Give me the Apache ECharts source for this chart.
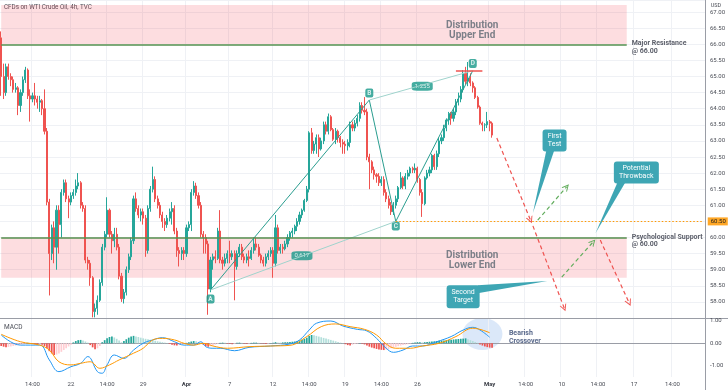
<!DOCTYPE html>
<html><head><meta charset="utf-8">
<script src="https://cdn.jsdelivr.net/npm/echarts@6/dist/echarts.min.js"></script>
<style>html,body{margin:0;padding:0;background:#fff}#c{width:728px;height:390px}</style>
</head><body><div id="c"></div>
<script>
// ---------- DATA ----------
// candles: [open, close, low, high]
const candlesA = [
[66.2,65.0,64.4,66.4],[65.0,64.5,64.3,65.4],[64.5,65.3,64.4,65.4],[65.3,65.0,64.9,65.4],[65.0,64.9,64.7,65.1],
[64.9,64.6,64.5,65.0],[64.6,64.65,64.5,64.8],[64.65,64.1,63.8,64.7],[64.1,64.5,63.9,64.6],[64.5,64.9,64.4,65.0],
[64.9,65.2,64.8,65.3],[65.2,64.4,64.3,65.25],[64.4,64.3,63.6,64.6],[64.3,64.4,64.2,64.5],[64.4,64.3,64.1,64.8],
[64.3,64.2,64.0,64.4],[64.2,64.25,63.9,64.4],[64.25,64.0,63.8,64.3],[64.0,63.3,63.2,64.6],[63.3,61.1,61.0,63.4],
[61.1,59.5,58.2,61.2]];
const candlesB = [
[59.5,60.3,59.3,60.4],[60.3,59.7,59.2,60.5],[59.7,60.85,59.0,61.0],[60.85,60.4,59.5,61.0],[60.4,61.4,60.0,61.5],
[61.4,61.7,61.3,61.8],[61.7,61.2,61.1,61.8],[61.2,61.1,60.6,61.3],[61.1,61.3,61.0,61.4],[61.3,61.4,61.2,61.5],
[61.4,61.6,61.3,61.8],[61.6,61.7,61.5,62.0],[61.7,61.0,60.9,61.75],[61.0,60.9,60.8,61.1],[60.9,59.3,59.2,61.0],
[59.3,59.2,59.0,59.4],[59.2,58.75,58.5,59.3],[58.75,57.7,57.52,58.8],[57.7,57.8,57.52,57.95],[57.8,58.05,57.6,58.2],
[58.05,58.6,58.0,58.7],[58.6,59.7,58.5,59.8],[59.7,60.1,59.6,60.2],[60.1,60.85,60.0,61.25],[60.85,60.1,60.0,60.9],
[60.1,59.9,59.5,60.2],[59.9,60.1,59.7,60.3],[60.1,59.7,59.6,60.3],[59.7,58.8,58.7,59.8],[58.8,58.1,58.0,58.9],
[58.1,58.3,57.95,58.4],[58.3,59.0,58.2,59.1],[59.0,59.4,58.9,59.5],[59.4,59.9,59.3,60.0],[59.9,61.2,59.8,61.3],
[61.2,60.9,60.8,61.4],[60.9,60.7,60.6,61.0],[60.7,60.8,60.5,60.9],[60.8,60.6,60.4,60.9],[60.6,59.6,59.4,60.7],
[59.6,60.9,59.5,61.0],[60.9,61.5,60.8,61.6],[61.5,61.8,61.4,62.2],[61.8,61.2,61.1,61.9],[61.2,61.0,60.9,61.3],
[61.0,60.7,60.6,61.1],[60.7,60.5,60.3,60.8],[60.5,60.4,60.2,60.6],[60.4,60.6,60.3,60.7]];
const candlesC = [
[60.6,60.8,60.5,60.9],[60.8,60.9,60.4,61.1],[60.9,60.2,60.1,61.0],[60.2,59.6,59.4,60.3],[59.6,59.5,59.1,59.7],
[59.5,59.6,59.3,59.7],[59.6,59.5,59.3,59.7],[59.5,60.3,59.4,60.4],[60.3,60.4,60.2,60.5],[60.4,61.4,60.2,61.5],
[61.4,61.6,61.3,61.75],[61.6,61.3,61.2,61.7],[61.3,61.0,60.9,61.4],[61.0,60.1,60.0,61.1],[60.1,60.0,59.5,60.2],
[60.0,59.8,59.5,60.1],[59.8,58.4,57.6,59.9],[58.4,59.3,58.3,59.4],[59.3,59.4,59.0,59.5],[59.4,59.35,59.2,59.6],
[59.35,60.2,59.3,60.3],[60.2,59.3,59.2,60.85],[59.3,59.2,59.0,59.4],[59.2,59.35,59.1,59.5],[59.35,59.5,59.2,59.6],
[59.5,59.4,59.2,59.9],[59.4,59.5,59.3,59.6],[59.5,59.1,58.05,59.6],[59.1,59.5,59.0,59.6],[59.5,59.7,59.4,59.8],
[59.7,59.4,59.3,59.8],[59.4,59.3,59.2,59.5],[59.3,59.4,59.2,59.5],[59.4,59.35,59.1,59.6],[59.35,59.6,59.3,59.7],
[59.6,59.8,59.5,60.0],[59.8,59.7,59.6,60.0],[59.7,59.45,59.4,59.8],[59.45,59.3,59.2,59.5],[59.3,59.2,59.1,59.4],
[59.2,59.4,59.1,59.5],[59.4,59.5,59.3,59.6],[59.5,59.6,59.4,59.7],[59.6,59.2,58.75,59.7],[59.2,60.3,59.1,60.7],
[60.3,59.6,59.5,60.4],[59.6,59.7,59.5,59.8],[59.7,59.65,59.5,59.8],[59.65,59.8,59.6,59.9],[59.8,60.0,59.7,60.1],
[60.0,60.15,59.9,60.2],[60.15,60.2,60.0,60.3],[60.2,60.35,60.1,60.4],[60.35,60.5,60.2,60.6],[60.5,60.7,60.4,60.8],
[60.7,60.85,60.6,60.9],[60.85,61.15,60.8,61.2],[61.15,61.5,61.1,61.6],[61.5,63.25,61.4,63.3],[63.25,62.7,62.6,63.4],
[62.7,62.9,62.6,63.0],[62.9,63.1,62.6,63.2],[63.1,62.75,62.5,63.2],[62.75,63.0,62.7,63.1],[63.0,63.5,62.9,63.6],
[63.5,63.3,63.2,63.6],[63.3,63.75,63.2,63.85]];
const candlesD = [
[63.75,63.35,63.3,63.8],[63.35,63.05,63.0,63.4],[63.05,63.3,62.9,63.4],[63.3,63.1,62.95,63.35],[63.1,62.95,62.8,63.15],
[62.95,62.9,62.6,63.05],[62.9,62.85,62.6,63.0],[62.85,62.95,62.7,63.05],[62.95,63.5,62.8,63.6],[63.5,63.4,63.3,63.6],
[63.4,63.55,63.3,63.65],[63.55,63.7,63.45,63.8],[63.7,64.1,63.6,64.2],[64.1,63.95,63.85,64.2],[63.95,63.9,63.8,64.36],
[63.9,62.5,62.4,64.0],[62.5,62.35,61.5,62.6],[62.35,62.1,62.0,62.4],[62.1,61.95,61.8,62.2],[61.95,61.9,61.7,62.0],
[61.9,61.7,61.6,62.0],[61.7,61.8,61.6,61.9],[61.8,61.4,61.3,61.9],[61.4,61.2,61.1,61.5],[61.2,61.0,60.9,61.3],
[61.0,60.8,60.7,61.1],[60.8,61.0,60.7,61.1],[61.0,61.2,60.9,61.3],[61.2,61.55,61.1,61.6],[61.55,61.85,61.5,62.03],
[61.85,61.6,61.5,61.9],[61.6,61.9,61.5,62.0],[61.9,62.0,61.8,62.1],[62.0,62.15,61.9,62.2],[62.15,62.1,62.0,62.2],
[62.1,62.15,62.0,62.3],[62.15,61.8,61.7,62.2],[61.8,61.4,61.3,61.85],[61.4,61.05,60.64,61.5],[61.05,61.85,61.0,61.9],
[61.85,62.0,61.8,62.1],[62.0,62.1,61.9,62.2],[62.1,62.55,62.0,62.6],[62.55,62.2,62.1,62.6],[62.2,62.6,62.1,62.7],
[62.6,63.0,62.5,63.1],[63.0,63.1,62.9,63.2],[63.1,63.4,63.0,63.5],[63.4,63.65,63.3,63.7],[63.65,63.85,63.5,63.9],
[63.85,63.7,63.5,63.9],[63.7,63.9,63.6,64.0],[63.9,64.2,63.8,64.3],[64.2,64.3,64.1,64.5],[64.3,64.6,64.2,64.7],
[64.6,65.1,64.5,65.2],[65.1,64.85,64.75,65.3],[64.85,64.95,64.7,65.45],[64.95,64.8,64.7,65.1],[64.8,64.65,64.5,64.85],
[64.65,64.35,64.3,64.7],[64.35,64.05,64.0,64.4],[64.05,63.55,63.5,64.1],[63.55,63.5,63.3,63.6],[63.5,63.5,63.3,63.55],
[63.5,63.6,63.4,63.9],[63.6,63.55,63.3,63.65],[63.55,63.18,63.1,63.6]];
const candles = candlesA.concat(candlesB, candlesC, candlesD);

// MACD histogram, one value per candle
const histogram = [
-0.12,-0.15,-0.17,-0.16,-0.14,-0.12,-0.1,
-0.08,-0.06,-0.04,-0.02,0.02,0.01,
-0.02,-0.04,-0.05,-0.04,-0.06,
-0.12,-0.22,-0.35,-0.45,-0.52,-0.5,-0.45,-0.38,-0.3,-0.22,
-0.14,-0.06,
0.04,0.1,0.14,0.15,0.12,0.08,0.03,
-0.08,-0.18,-0.26,-0.22,-0.12,
0.05,0.14,0.22,0.28,0.3,0.26,0.2,0.12,0.05,
0.1,0.18,0.25,0.3,0.33,0.3,0.28,0.25,
0.22,0.2,0.18,0.16,0.13,0.11,0.09,0.07,0.05,0.03,0.01,
-0.03,-0.06,-0.09,-0.1,-0.08,-0.05,-0.02,
0.02,0.05,0.08,0.1,0.09,0.06,0.02,
-0.06,-0.12,-0.15,-0.13,-0.1,-0.06,-0.03,
0.02,0.03,0.02,-0.02,-0.03,-0.04,-0.03,0.02,0.03,0.02,-0.02,-0.03,-0.02,0.02,0.03,0.03,0.02,-0.01,-0.02,-0.03,-0.02,0.01,
0.02,0.05,0.04,0.03,0.04,0.05,0.05,0.06,0.07,0.08,
0.1,0.13,0.16,0.2,0.25,0.33,0.37,0.36,0.33,
0.3,0.27,0.24,0.21,0.18,0.15,0.12,0.09,0.06,0.03,0.01,
-0.04,-0.08,-0.1,-0.06,-0.03,-0.02,0.01,-0.02,
-0.05,-0.1,-0.15,-0.19,-0.22,-0.25,-0.27,-0.29,-0.3,-0.28,
-0.25,-0.22,-0.19,-0.16,-0.13,-0.1,-0.08,-0.06,-0.04,-0.02,
0.02,0.04,0.05,0.05,0.04,0.05,0.06,0.07,0.08,0.09,
0.1,0.11,0.12,0.13,0.14,0.15,0.16,0.17,0.18,0.19,0.2,0.21,0.22,
0.18,0.14,0.1,0.06,0.02,
-0.05,-0.1,-0.14,-0.17,-0.19,-0.2];

// MACD and signal lines, read at sample candles: [candle index, value]
const macdLine = [[0,0.37],[8,-0.08],[16,-0.08],[20,-0.74],[24,-1.26],[29,-1.04],[33,-0.89],[36,-0.59],[40,-1.26],[42,-1.33],[44,-0.96],[47,-0.52],[51,-0.67],[55,-0.3],[59,0],[63,0.15],[67,0.25],[72,0.07],[76,-0.08],[80,-0.08],[83,0.07],[85,-0.15],[88,-0.22],[91,-0.22],[97,-0.33],[103,-0.18],[112,-0.12],[120,-0.03],[124,0.15],[128,0.59],[131,0.89],[137,0.99],[142,0.77],[148,0.62],[152,0.55],[156,0.22],[160,-0.22],[163,-0.4],[167,-0.3],[171,-0.12],[175,-0.12],[181,0.07],[187,0.3],[192,0.59],[196,0.71],[199,0.59],[203,0.27]];
const signalLine = [[0,0.4],[8,0.07],[16,-0.08],[20,-0.3],[24,-0.82],[29,-0.96],[33,-0.89],[37,-0.82],[41,-1.11],[45,-0.96],[49,-0.74],[55,-0.44],[59,-0.22],[63,0.15],[67,0.22],[72,0.15],[76,0],[80,-0.08],[84,0],[88,-0.12],[94,-0.22],[103,-0.15],[112,-0.12],[120,-0.09],[127,0.3],[133,0.74],[139,0.86],[145,0.74],[151,0.62],[156,0.37],[160,-0.03],[164,-0.22],[170,-0.22],[175,-0.12],[182,0],[189,0.3],[196,0.67],[203,0.47]];

// x-axis tick labels (candle index -> text)
const tickIndex = [13,29,44,59,77,95,113,128,143,158,173,203,218,233,248,263,279];
const tickLabels = ['14:00','22','14:00','29','Apr','7','12','14:00','19','14:00','26','May','14:00','10','14:00','17','14:00'];
const categoryCount = 293;

// harmonic pattern points
const patternNames = ['A','B','C','D'];
const patternX = [87,153,164,196];
const patternY = [58.37,64.27,60.5,65.18];
const patternTagY = [58.09,64.49,60.36,65.40];
const ratioText = ['1.255','0.617'];
const ratioX = [175,125];
const ratioY = [64.70,59.43];

// levels
const resistance = 66.0, support = 60.0, zoneTop = 67.22, zoneBottom = 58.75;
const pivotLevel = 60.5, lastPrice = 63.18, dLevel = 65.18;

// projected paths (dashed arrows)
const arrowFromX = [206,223,221,233,249];
const arrowFromY = [63.09,60.54,60.36,58.77,59.92];
const arrowToX = [220,235,234,246,261];
const arrowToY = [60.54,61.57,57.81,59.86,57.97];
const arrowKind = ['down','up','down','up','down'];

// callouts
const calloutText = ['First\nTest','Potential\nThrowback','Second\nTarget'];
const calloutX = [230,264,192];
const calloutY = [63.01,62.02,58.16];
const calloutTipX = [221,247,227];
const calloutTipY = [60.76,60.13,58.65];

// ---------- CHART ----------
const FONT = 'Roboto, "DejaVu Sans", sans-serif';
const UP = '#26a69a', DOWN = '#ef5350', GREEN = '#55904f', TEAL = '#17998a';
const categories = Array.from({length: categoryCount}, (_, i) => String(i));
const chart = echarts.init(document.getElementById('c'), null, {renderer: 'canvas'});
const isTick = (i) => tickIndex.indexOf(i) >= 0;
const gridColor = '#eff1f5';
const PX_PER_UNIT = 32.2, MAIN_H = 318;
const priceMin = 57.5, priceMax = priceMin + MAIN_H / PX_PER_UNIT;

const arrowPath = 'path://M0,10 L5,0 L10,10 L8.6,10 L5,3.2 L1.4,10 Z';
const arrowLines = arrowFromX.map((x, i) => {
  const c = arrowKind[i] === 'down' ? '#ef5350' : '#62ad5d';
  return [{coord: [x, arrowFromY[i]], lineStyle: {color: c, type: [4, 3], width: 1.2}, symbol: 'none'},
          {coord: [arrowToX[i], arrowToY[i]], symbol: arrowPath, symbolSize: [7, 7], itemStyle: {color: c}}];
});

const lvlLabel = {show: true, position: 'end', distance: 5, fontSize: 7, fontWeight: 'bold', color: '#5d606b', lineHeight: 7.5, fontFamily: FONT, align: 'left', offset: [0, 3]};

const option = {
  animation: false,
  grid: [
    {left: 0, top: 0, width: 705, height: MAIN_H},
    {left: 0, top: 309.55, width: 705, height: 67.5}
  ],
  xAxis: [
    {type: 'category', gridIndex: 0, data: categories, axisLine: {show: false}, axisTick: {show: false}, axisLabel: {show: false},
     splitLine: {show: true, interval: (i) => isTick(i), lineStyle: {color: gridColor}}},
    {type: 'category', gridIndex: 1, data: categories, axisLine: {show: true, lineStyle: {color: '#9a9da6'}}, axisTick: {show: false},
     axisLabel: {interval: (i) => isTick(i), fontSize: 6, color: '#4b4e57', fontFamily: FONT, margin: 4,
       formatter: (v) => { const k = tickIndex.indexOf(Number(v)); const t = k >= 0 ? tickLabels[k] : ''; return (t === 'Apr' || t === 'May') ? '{b|' + t + '}' : t; },
       rich: {b: {fontSize: 6, fontWeight: 'bold', color: '#3b3e47', fontFamily: FONT}}},
     splitLine: {show: true, interval: (i) => isTick(i), lineStyle: {color: gridColor}}}
  ],
  yAxis: [
    {type: 'value', gridIndex: 0, position: 'right', min: priceMin, max: priceMax, interval: 0.5,
     axisLine: {show: true, lineStyle: {color: '#9a9da6'}}, axisTick: {show: false},
     axisLabel: {fontSize: 6, color: '#4b4e57', margin: 5, fontFamily: FONT, formatter: (v) => (v < 57.9 || v > 67.1) ? '' : v.toFixed(2)},
     splitLine: {lineStyle: {color: gridColor}}},
    {type: 'value', gridIndex: 1, position: 'right', min: -1.5, max: 1.5, interval: 0.5,
     axisLine: {show: true, lineStyle: {color: '#9a9da6'}}, axisTick: {show: false},
     axisLabel: {fontSize: 6, color: '#4b4e57', margin: 5, fontFamily: FONT, formatter: (v) => (Math.abs(v - Math.round(v)) < 1e-9 && Math.abs(v) < 1.2) ? (v < 0 ? '-' : '') + Math.abs(v).toFixed(2) : ''},
     splitLine: {show: false}}
  ],
  series: [
    {type: 'candlestick', name: 'WTI', xAxisIndex: 0, yAxisIndex: 0, data: candles, barWidth: 1.6,
     itemStyle: {color: UP, color0: DOWN, borderColor: UP, borderColor0: DOWN, borderWidth: 1},
     markArea: {silent: true, itemStyle: {color: 'rgba(242,54,69,0.17)'},
       label: {show: true, position: ['75.3%', '66%'], align: 'center', verticalAlign: 'middle', fontSize: 10, fontWeight: 'bold', color: '#7c7f88', lineHeight: 10, fontFamily: FONT},
       data: [
         [{name: 'Distribution\nUpper End', coord: [0, zoneTop]}, {coord: [260, resistance]}],
         [{name: 'Distribution\nLower End', coord: [0, support], label: {position: ['75.3%', '56%']}}, {coord: [260, zoneBottom]}]
       ]},
     markLine: {silent: true, symbol: ['none', 'none'], animation: false,
       data: [
         [{coord: [0, resistance], lineStyle: {color: GREEN, width: 1.5, type: 'solid'}, label: Object.assign({}, lvlLabel, {formatter: 'Major Resistance\n@ 66.00'})}, {coord: [260, resistance]}],
         [{coord: [0, support], lineStyle: {color: GREEN, width: 1.5, type: 'solid'}, label: Object.assign({}, lvlLabel, {formatter: 'Psychological Support\n@ 60.00'})}, {coord: [260, support]}],
         [{coord: [164, pivotLevel], lineStyle: {color: '#ff9800', width: 1, type: [1.5, 2]},
           label: {show: true, position: 'end', distance: 4, formatter: pivotLevel.toFixed(2), fontSize: 6, color: '#222', backgroundColor: '#ffa726', padding: [1, 2, 1, 3], fontFamily: FONT}}, {coord: [292, pivotLevel]}],
         [{coord: [204, lastPrice], lineStyle: {opacity: 0},
           label: {show: true, position: 'end', distance: 4, formatter: lastPrice.toFixed(2), fontSize: 6, color: '#fff', backgroundColor: DOWN, padding: [1, 2, 1, 3], fontFamily: FONT}}, {coord: [292, lastPrice]}],
         [{coord: [189, dLevel], lineStyle: {color: DOWN, width: 1.5, type: 'solid'}, label: {show: false}}, {coord: [200, dLevel]}]
       ]}
    },
    {type: 'line', name: 'XABCD', xAxisIndex: 0, yAxisIndex: 0, symbol: 'none', lineStyle: {color: '#2a9d8f', width: 1},
     data: patternX.map((x, i) => [x, patternY[i]]),
     markLine: {silent: true, animation: false, label: {show: false}, data: arrowLines}},
    {type: 'line', name: 'AC', xAxisIndex: 0, yAxisIndex: 0, symbol: 'none', lineStyle: {color: '#9fd3cc', width: 1},
     data: [[patternX[0], patternY[0]], [patternX[2], patternY[2]]]},
    {type: 'line', name: 'BD', xAxisIndex: 0, yAxisIndex: 0, symbol: 'none', lineStyle: {color: '#9fd3cc', width: 1},
     data: [[patternX[1], patternY[1]], [patternX[3], patternY[3]]]},
    {type: 'scatter', name: 'tags', xAxisIndex: 0, yAxisIndex: 0, symbol: 'roundRect', symbolSize: [8, 9], itemStyle: {color: TEAL},
     label: {show: true, position: 'inside', formatter: (p) => p.data[2], color: '#fff', fontSize: 6.5, fontWeight: 'bold', fontFamily: FONT},
     data: patternX.map((x, i) => [x, patternTagY[i], patternNames[i]])},
    {type: 'scatter', name: 'ratios', xAxisIndex: 0, yAxisIndex: 0, symbol: 'roundRect', symbolSize: [21, 9], itemStyle: {color: TEAL},
     label: {show: true, position: 'inside', formatter: (p) => p.data[2], color: '#ffffff', textBorderWidth: 0, fontSize: 6, fontFamily: FONT},
     data: ratioX.map((x, i) => [x, ratioY[i], ratioText[i]])},
    {type: 'bar', name: 'Histogram', xAxisIndex: 1, yAxisIndex: 1, data: histogram, barWidth: 1.7,
     itemStyle: {color: (p) => { const v = p.value, pr = p.dataIndex > 0 ? histogram[p.dataIndex - 1] : v;
        if (v >= 0) return v >= pr ? '#26a69a' : '#b2dfdb'; return v <= pr ? '#ef5350' : '#ffcdd2'; }}},
    {type: 'line', name: 'MACD', xAxisIndex: 1, yAxisIndex: 1, symbol: 'none', smooth: 0.4, lineStyle: {color: '#2196f3', width: 1}, data: macdLine},
    {type: 'line', name: 'Signal', xAxisIndex: 1, yAxisIndex: 1, symbol: 'none', smooth: 0.4, lineStyle: {color: '#ff9800', width: 1}, data: signalLine}
  ]
};
chart.setOption(option);

// ---------- annotations placed from data coordinates ----------
const toPx = (g, x, y) => chart.convertToPixel({xAxisIndex: g, yAxisIndex: g}, [x, y]);
const CALL = '#3ea6b4';
const sizes = [[24, 22], [45, 22], [33, 23]];
const graphics = [];
calloutText.forEach((t, i) => {
  const c = toPx(0, calloutX[i], calloutY[i]);
  const tip = toPx(0, calloutTipX[i], calloutTipY[i]);
  const w = sizes[i][0], h = sizes[i][1];
  const L = c[0] - w / 2, T = c[1] - h / 2;
  let base;
  if (i === 2) base = [[L + w - 2, T], [L + w - 2, T + 8]];
  else base = [[L + 4, T + h - 2], [L + 12, T + h - 2]];
  graphics.push({type: 'polygon', shape: {points: [base[0], base[1], tip]}, style: {fill: CALL}, silent: true});
  graphics.push({type: 'rect', shape: {x: L, y: T, width: w, height: h, r: 3}, style: {fill: CALL}, silent: true});
  graphics.push({type: 'text', x: c[0], y: c[1], style: {text: t, fill: '#fff', font: '7px ' + FONT, textAlign: 'center', textVerticalAlign: 'middle', lineHeight: 8}, silent: true});
});
const ec = toPx(1, 200, 0.41);
graphics.push({type: 'ellipse', shape: {cx: ec[0], cy: ec[1], rx: 20, ry: 16}, style: {fill: 'rgba(110,165,230,0.25)'}, silent: true, z: -1});
const bt = toPx(1, 211, 0.27);
graphics.push({type: 'text', x: bt[0], y: bt[1], style: {text: 'Bearish\nCrossover', fill: '#5a6a8c', font: 'bold 7px ' + FONT, textAlign: 'left', textVerticalAlign: 'middle', lineHeight: 7.5}, silent: true});
graphics.push({type: 'text', x: 4, y: 7, style: {text: 'CFDs on WTI Crude Oil, 4h, TVC', fill: '#4b4e57', font: '6.3px ' + FONT, textAlign: 'left', textVerticalAlign: 'middle'}, silent: true});
graphics.push({type: 'text', x: 716, y: 6, style: {text: 'USD', fill: '#4b4e57', font: '5.5px ' + FONT, textAlign: 'center', textVerticalAlign: 'middle'}, silent: true});
graphics.push({type: 'text', x: 4, y: 327, style: {text: 'MACD', fill: '#4b4e57', font: '6.5px ' + FONT, textAlign: 'left', textVerticalAlign: 'middle'}, silent: true});
graphics.push({type: 'line', shape: {x1: 0, y1: 318.5, x2: 728, y2: 318.5}, style: {stroke: '#9a9da6', lineWidth: 1}, silent: true});
graphics.push({type: 'line', shape: {x1: 705.5, y1: 0, x2: 705.5, y2: 390}, style: {stroke: '#9a9da6', lineWidth: 1}, silent: true});
chart.setOption({graphic: graphics});
</script></body></html>
